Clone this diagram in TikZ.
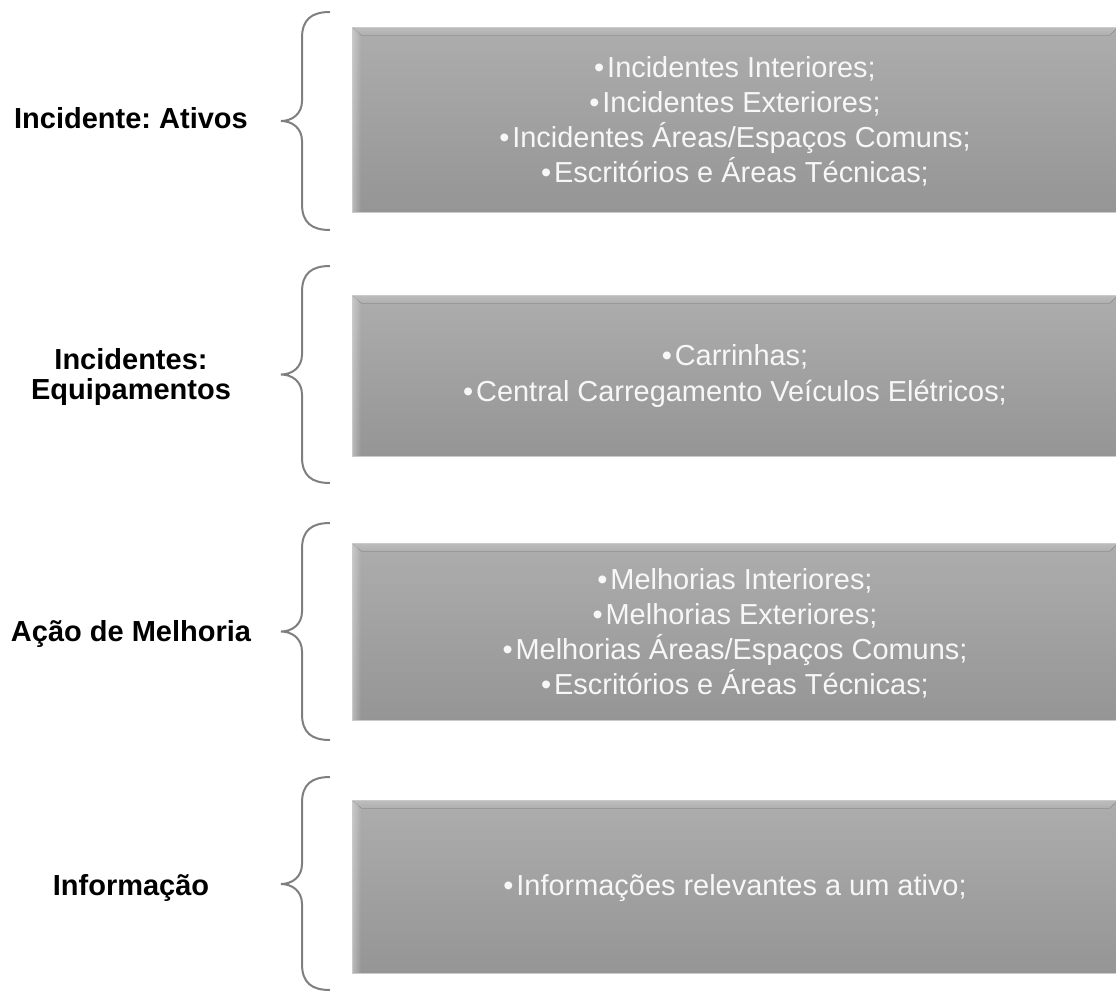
\documentclass[tikz,border=0pt]{standalone}
\usepackage{fontspec}
\setmainfont{Liberation Sans}
\usetikzlibrary{fadings}
\frenchspacing

\definecolor{bodytop}{HTML}{ADADAD}
\definecolor{bodybot}{HTML}{959595}
\definecolor{bevtop}{HTML}{BDBDBD}
\definecolor{bevmid}{HTML}{F4F4F4}
\definecolor{bevbot}{HTML}{AFAFAF}
\definecolor{boxedge}{HTML}{CACACA}
\definecolor{bracegray}{HTML}{7F7F7F}
\definecolor{itemwhite}{HTML}{F7F7F7}

% bullet with the small gap that follows it
\newcommand{\itm}{•\hspace{0.1em}}

% grey bevelled panel: #1 = top edge, #2 = bottom edge
\newcommand{\panel}[2]{%
  \fill[top color=bodytop, bottom color=bodybot] (352,#1) rectangle (1118,#2);
  \fill[top color=bevtop, middle color=bevmid, bottom color=bevbot]
    (352,#1) -- (1118,#1) -- (1110,#1+8) -- (361,#1+8) -- cycle;
  \fill[white, opacity=0.35, path fading=east]
    (352,#1) -- (361,#1+8) -- (361,#2) -- (352,#2) -- cycle;
  \draw[boxedge, line width=0.75pt] (352,#1) rectangle (1118,#2);
}

% curly brace: #1 = top, #2 = middle (tip), #3 = bottom
\newcommand{\curlybrace}[3]{%
  \draw[bracestroke]
    (330,#1) .. controls (312,#1) and (302,#1+7) .. (302,#1+26)
    -- (302,#2-20) .. controls (302,#2-7) and (292,#2) .. (281,#2)
    .. controls (292,#2) and (302,#2+7) .. (302,#2+20)
    -- (302,#3-26) .. controls (302,#3-7) and (312,#3) .. (330,#3);
}

\begin{document}
\begin{tikzpicture}[x=0.75pt, y=-0.75pt,
  bracestroke/.style={draw=bracegray, line width=1.5pt},
  labeltext/.style={font=\fontsize{21.75}{22.5}\selectfont\bfseries, align=center, text=black, inner sep=0pt},
  itemtext/.style={font=\fontsize{21.7}{26.3}\selectfont, align=center, text=itemwhite, inner sep=0pt}]
\useasboundingbox (0,0) rectangle (1116,992);

% panels
\panel{27}{212}
\panel{295}{456}
\panel{543}{720}
\panel{800}{973}

% braces
\curlybrace{12}{121}{230}
\curlybrace{266}{374.5}{483}
\curlybrace{523}{631.5}{740}
\curlybrace{777}{884}{990}

% category labels
\node[labeltext, anchor=base] (cat1) at (131,128) {Incidente: Ativos};
\node[labeltext] (cat2) at (131,377) {Incidentes:\\Equipamentos};
\node[labeltext, anchor=base] (cat3) at (131,641) {Ação de Melhoria};
\node[labeltext, anchor=base] (cat4) at (131,895) {Informação};

% panel contents
\node[itemtext] (items1) at (735,121) {\itm Incidentes Interiores;\\\itm Incidentes Exteriores;\\\itm Incidentes Áreas/Espaços Comuns;\\\itm Escritórios e Áreas Técnicas;};
\node[itemtext] (items2) at (735,376) {\itm Carrinhas;\\\itm Central Carregamento Veículos Elétricos;};
\node[itemtext] (items3) at (735,633) {\itm Melhorias Interiores;\\\itm Melhorias Exteriores;\\\itm Melhorias Áreas/Espaços Comuns;\\\itm Escritórios e Áreas Técnicas;};
\node[itemtext] (items4) at (735,888) {\itm Informações relevantes a um ativo;};
\end{tikzpicture}
\end{document}
